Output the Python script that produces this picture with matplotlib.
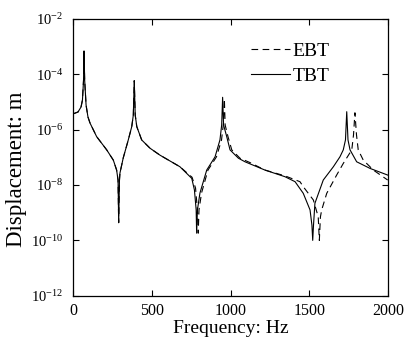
import numpy as np
import matplotlib
matplotlib.use('Agg')
import matplotlib.pyplot as plt
from matplotlib.ticker import FixedLocator, FuncFormatter, NullLocator

plt.rcParams['font.family'] = ['Liberation Serif', 'DejaVu Serif']
plt.rcParams['mathtext.fontset'] = 'custom'
plt.rcParams['mathtext.rm'] = 'Liberation Serif'
plt.rcParams['mathtext.it'] = 'Liberation Serif:italic'

# TBT: frequency (Hz), log10 of displacement (m)
tbt_freq = [0, 32, 51, 60, 67, 70, 74, 83, 95, 108, 150, 214, 256, 277, 286, 290,
            295, 298, 319, 351, 373, 383, 389, 395, 405, 436, 489, 552, 679, 754,
            771, 782, 785, 790, 806, 849, 902, 933, 944, 950, 956, 976, 997, 1050,
            1092, 1219, 1346, 1410, 1462, 1505, 1517, 1522, 1527, 1536, 1589, 1653,
            1695, 1716, 1730, 1738, 1746, 1759, 1801, 1886, 1998]
tbt_log = [-5.43, -5.36, -5.18, -4.93, -4.20, -3.16, -4.20, -5.11, -5.54, -5.76,
           -6.25, -6.73, -7.10, -7.46, -7.82, -9.36, -7.82, -7.57, -7.02, -6.37,
           -5.89, -5.47, -4.23, -5.47, -5.89, -6.37, -6.67, -6.92, -7.34, -7.76,
           -8.18, -8.90, -9.74, -8.90, -8.29, -7.46, -6.98, -6.37, -5.83, -4.83,
           -5.83, -6.25, -6.73, -7.03, -7.16, -7.46, -7.70, -7.88, -8.30, -8.90,
           -9.45, -10.0, -9.45, -8.66, -7.82, -7.34, -6.98, -6.73, -6.37, -5.35,
           -6.37, -6.73, -7.16, -7.40, -7.64]

# EBT: same as TBT at low frequency, shifted above ~700 Hz
ebt_freq = [0, 32, 51, 60, 67, 70, 74, 83, 95, 108, 150, 214, 256, 277, 286, 290,
            295, 298, 319, 351, 373, 383, 389, 395, 405, 436, 489, 552, 679, 756,
            778, 790, 795, 800, 816, 857, 911, 943, 954, 961, 966, 984, 1008, 1060,
            1124, 1219, 1346, 1441, 1462, 1526, 1557, 1564, 1571, 1579, 1611, 1674,
            1716, 1770, 1781, 1790, 1800, 1811, 1843, 1907, 1998]
ebt_log = [-5.43, -5.36, -5.18, -4.93, -4.20, -3.16, -4.20, -5.11, -5.54, -5.76,
           -6.25, -6.73, -7.10, -7.46, -7.82, -9.36, -7.82, -7.57, -7.02, -6.37,
           -5.89, -5.47, -4.23, -5.47, -5.89, -6.37, -6.67, -6.92, -7.34, -7.72,
           -8.11, -8.90, -9.74, -8.90, -8.29, -7.46, -6.98, -6.37, -5.83, -4.89,
           -5.83, -6.25, -6.73, -7.03, -7.19, -7.46, -7.67, -7.88, -8.06, -8.54,
           -9.15, -10.0, -9.15, -8.90, -8.30, -7.64, -7.22, -6.73, -6.19, -5.39,
           -6.19, -6.73, -7.10, -7.46, -7.82]

y_ticks = [1e-12, 1e-10, 1e-8, 1e-6, 1e-4, 1e-2]
x_ticks = [0, 500, 1000, 1500, 2000]

tbt_disp = 10.0 ** np.array(tbt_log)
ebt_disp = 10.0 ** np.array(ebt_log)

fig = plt.figure(figsize=(4.08, 3.41), dpi=100)
ax = fig.add_axes([73 / 408, 1 - 295.7 / 341, 315 / 408, 276.7 / 341])

ax.plot(ebt_freq, ebt_disp, color='black', lw=0.8, dashes=(6, 4), label='EBT')
ax.plot(tbt_freq, tbt_disp, color='black', lw=0.8, label='TBT')

ax.set_yscale('log')
ax.set_xlim(0, 2000)
ax.set_ylim(1e-12, 1e-2)
ax.xaxis.set_major_locator(FixedLocator(x_ticks))
ax.yaxis.set_major_locator(FixedLocator(y_ticks))
ax.yaxis.set_minor_locator(NullLocator())
ax.yaxis.set_major_formatter(FuncFormatter(
    lambda v, p: r'$10^{%d}$' % int(round(np.log10(v)))))
ax.tick_params(direction='in', top=True, right=True, length=4, width=0.8)
ax.tick_params(axis='x', pad=5, labelsize=11.5)
ax.tick_params(axis='y', pad=7, labelsize=10.5)
for s in ax.spines.values():
    s.set_linewidth(0.9)

ax.set_xlabel('Frequency: Hz', fontsize=14, labelpad=1)
ax.set_ylabel('Displacement: m', fontsize=16.5)
ax.yaxis.set_label_coords(-0.145, 0.458)

leg = ax.legend(loc='upper left', bbox_to_anchor=(0.564, 0.915), frameon=False,
                fontsize=14, handlelength=2.0, handletextpad=0.15,
                labelspacing=0.35, borderpad=0, borderaxespad=0)

fig.savefig('out.png', dpi=100)
